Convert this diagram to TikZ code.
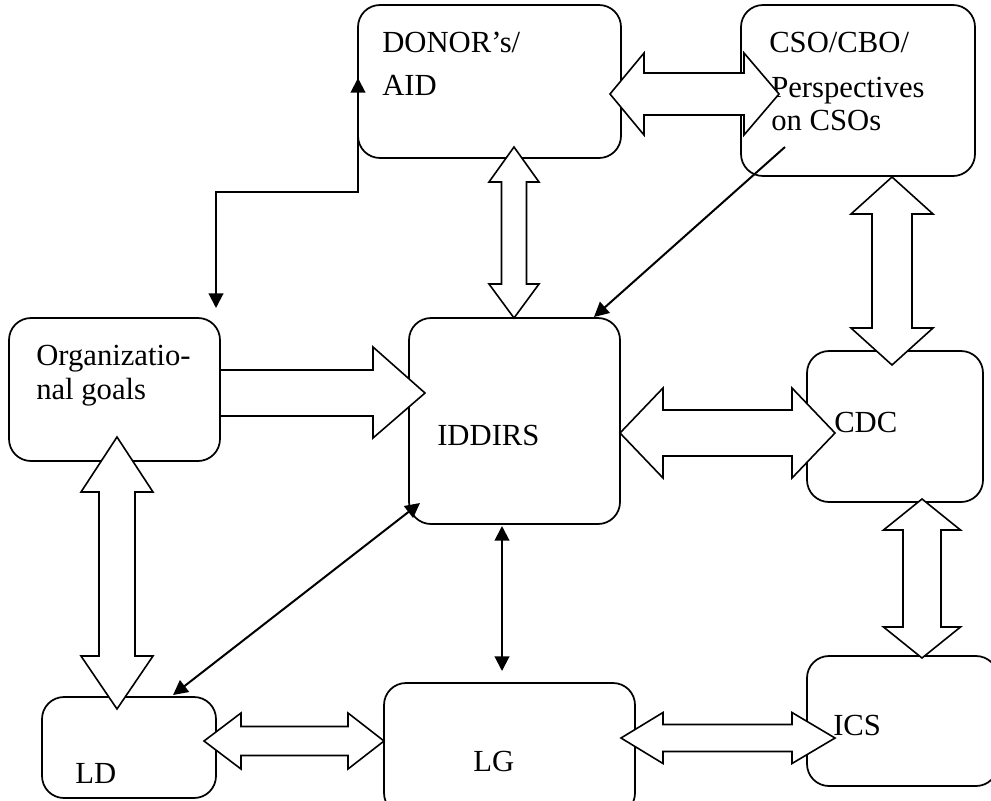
\documentclass[tikz,border=0pt]{standalone}
\usepackage{fontspec}
\setmainfont{Liberation Serif}
\usetikzlibrary{arrows.meta,fit}
\newcommand{\harrowD}[7]{% tipL baseL baseR tipR cy halfshaft halfhead
  \draw[blk] (#1,#5) -- (#2,#5-#7) -- (#2,#5-#6) -- (#3,#5-#6) -- (#3,#5-#7) -- (#4,#5)
    -- (#3,#5+#7) -- (#3,#5+#6) -- (#2,#5+#6) -- (#2,#5+#7) -- cycle;}
\newcommand{\varrowD}[7]{% tipT baseT baseB tipB cx halfshaft halfhead
  \draw[blk] (#5,#1) -- (#5+#7,#2) -- (#5+#6,#2) -- (#5+#6,#3) -- (#5+#7,#3) -- (#5,#4)
    -- (#5-#7,#3) -- (#5-#6,#3) -- (#5-#6,#2) -- (#5-#7,#2) -- cycle;}
\begin{document}
\begin{tikzpicture}[x=0.75pt,y=-0.75pt,
  box/.style={draw, line width=1.3pt, rounded corners=16.5pt, inner sep=0pt},
  lbl/.style={anchor=base west, inner sep=0pt, font=\fontsize{23}{27}\selectfont},
  blk/.style={draw, line width=1.2pt, fill=white, line join=miter, miter limit=20},
  tip/.tip={Triangle[length=11pt,width=11pt]},
  conn/.style={line width=1.5pt, tip-tip},
  conn1/.style={line width=1.5pt, -tip},
]
\useasboundingbox (0,0) rectangle (991,800);

% boxes
\node[box, fit={(358,5) (621,158)}] (donor) {};
\node[box, fit={(741,5) (975,176)}] (cso) {};
\node[box, fit={(9,318) (220,461)}] (org) {};
\node[box, fit={(409,318) (620,524)}] (iddirs) {};
\node[box, fit={(807,351) (983,502)}] (cdc) {};
\node[box, fit={(42,697) (216,798)}] (ld) {};
\node[box, fit={(384,683) (635,815)}] (lg) {};
\node[box, fit={(807,656) (998,786)}] (ics) {};

% texts
\node[lbl] (t1) at (382,52) {DONOR’s/};
\node[lbl] (t2) at (382,95) {AID};
\node[lbl] (t3) at (769,52) {CSO/CBO/};
\node[lbl] (t4) at (771,97) {Perspectives};
\node[lbl] (t5) at (771,130) {on CSOs};
\node[lbl] (t6) at (36,365) {Organizatio-};
\node[lbl] (t7) at (36,399) {nal goals};
\node[lbl] (t8) at (437,445) {IDDIRS};
\node[lbl] (t9) at (834,432) {CDC};
\node[lbl] (t10) at (75,783) {LD};
\node[lbl] (t11) at (473,771) {LG};
\node[lbl] (t12) at (833,735) {ICS};

% block arrows
\harrowD{610}{644}{744}{779}{94}{21}{41}
\varrowD{147}{182}{284}{318}{514}{12.5}{25}
\draw[blk] (220,370) -- (373,370) -- (373,347) -- (425,393) -- (373,438) -- (373,416) -- (220,416) -- cycle;
\varrowD{437}{492}{656}{709}{117}{18}{36}
\harrowD{620}{663}{792}{835}{433}{23}{45}
\varrowD{177}{214}{328}{365}{892}{20}{41}
\varrowD{499}{530}{627}{658}{922}{19}{38.5}
\harrowD{204}{241}{348}{384}{741}{14.5}{28}
\harrowD{621}{663}{792}{835}{738}{13.5}{25.5}

% thin connectors
\coordinate (a1) at (358,78);
\coordinate (a2) at (358,192);
\coordinate (a3) at (216,192);
\coordinate (a4) at (216,308);
\draw[conn] (a1) -- (a2) -- (a3) -- (a4);
\coordinate (b1) at (785,147);
\coordinate (b2) at (594,317);
\draw[conn1] (b1) -- (b2);
\coordinate (c1) at (420,503);
\coordinate (c2) at (173,695);
\draw[conn] (c1) -- (c2);
\coordinate (d1) at (502,526);
\coordinate (d2) at (502,671);
\draw[conn] (d1) -- (d2);
\end{tikzpicture}
\end{document}
